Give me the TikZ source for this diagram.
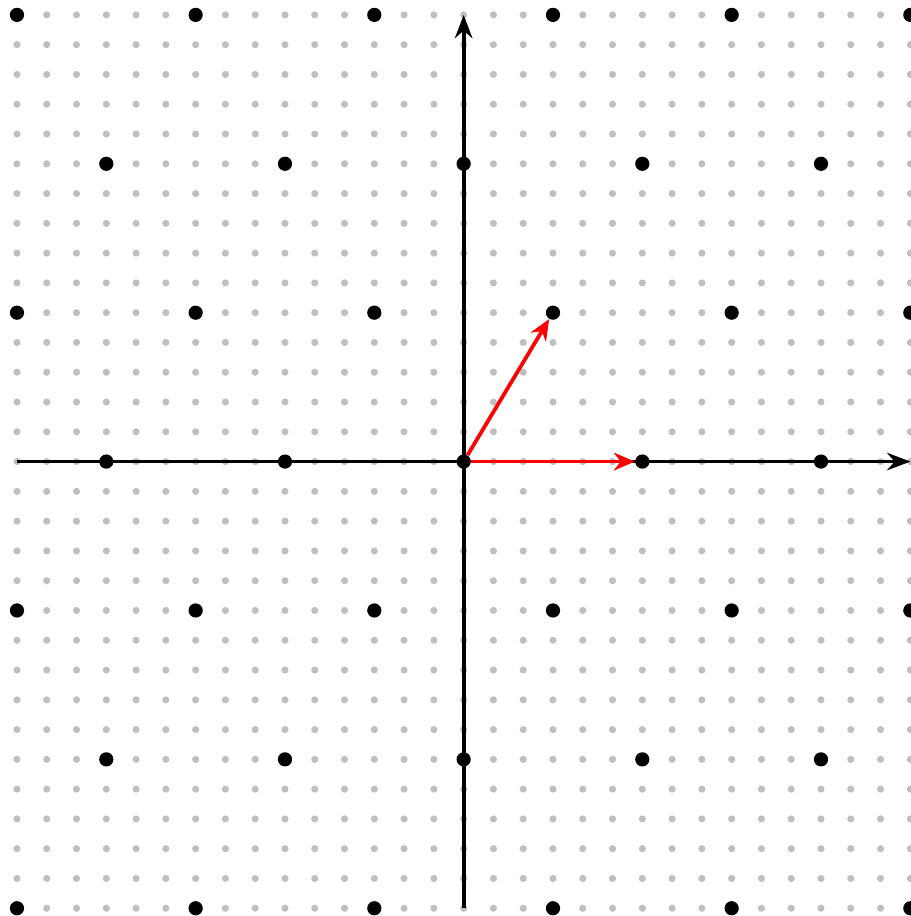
\documentclass[tikz,border=0pt]{standalone}
\usepackage{tikz}
\usetikzlibrary{arrows.meta}
\begin{document}
\begin{tikzpicture}[
    x=0.5cm, y=0.5cm,
    griddot/.style={circle, fill=gray!50, inner sep=0pt, minimum size=3.4pt},
    dot/.style={circle, fill, inner sep=0pt, minimum size=6.8pt},
    axis/.style={line width=1.8pt, -{Stealth}},
    basis/.style={red, line width=1.8pt, -{Stealth[length=10pt, width=8.5pt]}}
]
  \useasboundingbox (-15.57,-15.26) rectangle (14.99,15.50);

  % --- BACKGROUND GRID ---
  \foreach \x in {-15,...,15}
    \foreach \y in {-15,...,15}
      \node[griddot] (g\x_\y) at (\x,\y) {};

  % --- LATTICE POINTS ---
  \foreach \y in {-10,0,10}
    \foreach \x in {-12,-6,...,12}
      \node[dot] (p\x_\y) at (\x,\y) {};
  \foreach \y in {-15,-5,5,15}
    \foreach \x in {-15,-9,...,15}
      \node[dot] (p\x_\y) at (\x,\y) {};

  % --- AXES ---
  \coordinate (xl) at (-15,0);
  \coordinate (xr) at (15,0);
  \coordinate (yb) at (0,-15);
  \coordinate (yt) at (0,15);
  \draw[axis] (xl) -- (xr);
  \draw[axis] (yb) -- (yt);

  % --- BASIS VECTORS ---
  \draw[basis] (p0_0) -- (p6_0);
  \draw[basis] (p0_0) -- (p3_5);

\end{tikzpicture}
\end{document}
